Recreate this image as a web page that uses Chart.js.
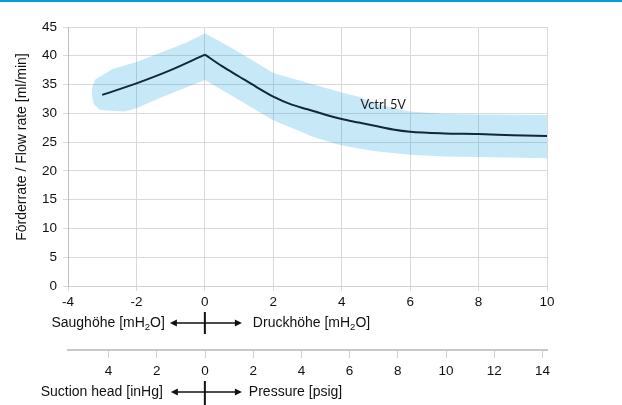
<!DOCTYPE html>
<html><head><meta charset="utf-8">
<script src="https://cdn.jsdelivr.net/npm/chart.js@4/dist/chart.umd.min.js"></script>
<style>
html,body{margin:0;padding:0;background:#fff;}
#wrap{position:relative;width:622px;height:405px;overflow:hidden;}
#topbar{position:absolute;left:0;top:0;width:622px;height:2px;background:#069ddb;}
</style></head><body>
<div id="wrap"><canvas id="c" width="622" height="405"></canvas><div id="topbar"></div></div>
<script>
// ---- data ----
const headTicks = [-4, -2, 0, 2, 4, 6, 8, 10];          // Saughöhe / Druckhöhe [mH2O]
const pressureTicks = [-4, -2, 0, 2, 4, 6, 8, 10, 12, 14]; // inHg (left) / psig (right)
const meanX = [-3, -2, -1, 0, 0.5, 1, 1.5, 2, 2.5, 3, 3.5, 4, 4.5, 5, 5.5, 6, 7, 8, 9, 10];
const meanY = [33.2, 35.2, 37.5, 40.2, 38.2, 36.4, 34.6, 32.9, 31.6, 30.7, 29.8, 29.0, 28.4, 27.8, 27.2, 26.8, 26.5, 26.4, 26.2, 26.05];
const upperX = [-3.3, -3.22, -3.0, -2.7, -2.0, -1.0, -0.5, 0, 0.5, 1.0, 2.0, 2.4, 3.0, 4.0, 4.5, 5.0, 5.5, 6.0, 7.0, 8.0, 10.0];
const upperY = [34.3, 35.8, 36.6, 37.7, 38.9, 41.2, 42.4, 43.9, 42.3, 40.6, 37.0, 36.3, 35.3, 33.6, 32.9, 31.7, 30.9, 30.3, 29.9, 29.8, 29.7];
const lowerX = [-3.3, -3.25, -3.07, -2.34, -2.0, -1.3, 0, 1.0, 2.0, 3.17, 3.95, 4.5, 5.0, 6.0, 7.0, 8.0, 10.0];
const lowerY = [33.0, 31.6, 30.6, 30.3, 30.9, 32.7, 35.8, 32.3, 28.8, 25.9, 24.5, 23.9, 23.4, 22.8, 22.5, 22.4, 22.2];
const seriesLabel = 'Vctrl 5V';
const seriesLabelAt = [4.55, 30.7];
const yTitle = 'Förderrate / Flow rate [ml/min]';
const headLeft = [['Saughöhe [mH', false], ['2', true], ['O]', false]];
const headRight = [['Druckhöhe [mH', false], ['2', true], ['O]', false]];
const pressLeft = [['Suction head [inHg]', false]];
const pressRight = [['Pressure [psig]', false]];

const pts = (xs, ys) => xs.map((x, i) => ({x: x, y: ys[i]}));
const meanPts = pts(meanX, meanY);
const peak = meanX.indexOf(0);
const FONT = '"Liberation Sans", Arial, sans-serif';
const INK = '#111';

function drawRich(ctx, parts, x, y, align) {
  const main = '14px ' + FONT, sub = '9.5px ' + FONT;
  let total = 0;
  parts.forEach(([t, s]) => { ctx.font = s ? sub : main; total += ctx.measureText(t).width; });
  let cx = align === 'right' ? x - total : x;
  ctx.textAlign = 'left'; ctx.textBaseline = 'middle';
  parts.forEach(([t, s]) => {
    ctx.font = s ? sub : main;
    ctx.fillText(t, cx, s ? y + 4 : y);
    cx += ctx.measureText(t).width;
  });
}
function drawCross(ctx, x0, y, up, down, lt, rt) {
  ctx.strokeStyle = INK; ctx.fillStyle = INK;
  ctx.lineWidth = 2;
  ctx.beginPath(); ctx.moveTo(x0, y - up); ctx.lineTo(x0, y + down); ctx.stroke();
  ctx.lineWidth = 1.4;
  ctx.beginPath(); ctx.moveTo(x0 - lt + 5, y); ctx.lineTo(x0 + rt - 5, y); ctx.stroke();
  ctx.beginPath(); ctx.moveTo(x0 - lt, y); ctx.lineTo(x0 - lt + 7, y - 3.5); ctx.lineTo(x0 - lt + 7, y + 3.5); ctx.closePath(); ctx.fill();
  ctx.beginPath(); ctx.moveTo(x0 + rt, y); ctx.lineTo(x0 + rt - 7, y - 3.5); ctx.lineTo(x0 + rt - 7, y + 3.5); ctx.closePath(); ctx.fill();
}

const annot = {
  id: 'annot',
  afterDraw(chart) {
    const ctx = chart.ctx, xs = chart.scales.x, ys = chart.scales.y, x2 = chart.scales.x2;
    ctx.save();
    // y-axis title
    ctx.save();
    ctx.translate(22, 147);
    ctx.rotate(-Math.PI / 2);
    ctx.fillStyle = INK; ctx.font = '14px ' + FONT;
    ctx.textAlign = 'center'; ctx.textBaseline = 'middle';
    ctx.fillText(yTitle, 0, 0);
    ctx.restore();
    // series label
    ctx.fillStyle = '#1b1b1b';
    ctx.font = '12.8px Lato, "Open Sans", sans-serif';
    ctx.textAlign = 'left'; ctx.textBaseline = 'alphabetic';
    ctx.fillText(seriesLabel, xs.getPixelForValue(seriesLabelAt[0]), ys.getPixelForValue(seriesLabelAt[1]));
    const x0 = xs.getPixelForValue(0);
    const r1 = xs.top + 37;
    ctx.fillStyle = INK;
    drawRich(ctx, headLeft, x0 - 40, r1, 'right');
    drawRich(ctx, headRight, x0 + 48, r1, 'left');
    drawCross(ctx, x0, r1, 11, 11, 35, 37);
    const r2 = x2.bottom - 13;
    ctx.fillStyle = INK;
    drawRich(ctx, pressLeft, x0 - 42, r2, 'right');
    drawRich(ctx, pressRight, x0 + 44, r2, 'left');
    drawCross(ctx, x0, r2, 11, 14, 34, 37);
    ctx.restore();
  }
};

const bandColor = 'rgba(0,150,214,0.22)';
const lineColor = '#10283a';
new Chart(document.getElementById('c'), {
  type: 'line',
  data: {
    datasets: [
      {data: pts(upperX, upperY), borderWidth: 0, pointRadius: 0, fill: false, tension: 0, order: 2, borderColor: 'rgba(0,0,0,0)'},
      {data: pts(lowerX, lowerY), borderWidth: 0, pointRadius: 0, fill: 0, backgroundColor: bandColor, tension: 0, order: 2, borderColor: 'rgba(0,0,0,0)'},
      {data: meanPts.slice(0, peak + 1), borderColor: lineColor, borderWidth: 2, pointRadius: 0, fill: false, cubicInterpolationMode: 'monotone', order: 0},
      {data: meanPts.slice(peak), borderColor: lineColor, borderWidth: 2, pointRadius: 0, fill: false, cubicInterpolationMode: 'monotone', order: 0}
    ]
  },
  options: {
    responsive: false, animation: false, events: [],
    layout: {padding: {top: 27, right: 75, bottom: 0, left: 0}},
    plugins: {legend: {display: false}, tooltip: {enabled: false}},
    scales: {
      x: {
        type: 'linear', position: 'bottom', weight: 0, min: -4, max: 10,
        afterBuildTicks: s => { s.ticks = headTicks.map(v => ({value: v})); },
        afterFit: s => { s.height = 64; },
        ticks: {color: INK, font: {family: FONT, size: 13.5}, padding: 3, maxRotation: 0},
        grid: {color: '#d9d9d9', tickLength: 5},
        border: {color: '#cfcfcf'}
      },
      x2: {
        type: 'linear', position: 'bottom', weight: 1, min: -5.685, max: 14.19,
        afterBuildTicks: s => { s.ticks = pressureTicks.map(v => ({value: v})); },
        afterFit: s => { s.height = 55; },
        ticks: {color: INK, font: {family: FONT, size: 13.5}, padding: 5, maxRotation: 0, callback: v => String(Math.abs(v))},
        grid: {drawOnChartArea: false, color: '#d0d0d0', tickLength: 8},
        border: {color: '#c8c8c8', width: 2}
      },
      y: {
        min: 0, max: 45,
        afterFit: s => { s.width = 68; },
        ticks: {stepSize: 5, color: INK, font: {family: FONT, size: 13.5}, padding: 6},
        grid: {color: '#d9d9d9', tickLength: 5},
        border: {color: '#bdbdbd'}
      }
    }
  },
  plugins: [annot]
});
</script>
</body></html>
